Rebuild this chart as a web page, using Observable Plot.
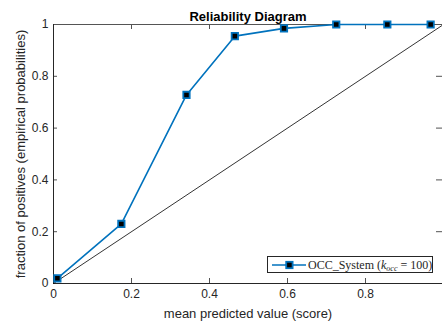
<!DOCTYPE html>
<html>
<head>
<meta charset="utf-8">
<script src="https://cdn.jsdelivr.net/npm/d3@7"></script>
<script src="https://cdn.jsdelivr.net/npm/@observablehq/plot@0.6"></script>
<style>
  html, body { margin: 0; padding: 0; background: #fff; }
  #chart { position: relative; width: 442px; height: 322px; }
  #legend { position: absolute; left: 267px; top: 256px; width: 166px; height: 17px; box-sizing: border-box;
    border: 1px solid #262626; background: #fff; color: #262626; white-space: nowrap; }
  #legend svg { position: absolute; left: 3px; top: 2px; }
  #legend .t { position: absolute; left: 40px; top: 1px; line-height: 14px; font-family: "Liberation Serif", serif; font-size: 12px; }
  #legend sub { font-size: 8px; vertical-align: -2px; line-height: 0; }
</style>
</head>
<body>
<div id="chart"></div>
<script>
const meanPredicted = [0.01, 0.174, 0.341, 0.465, 0.591, 0.725, 0.856, 0.967];
const fractionPositives = [0.02, 0.23, 0.728, 0.955, 0.985, 1.0, 1.0, 1.0];
const xTicks = [0, 0.2, 0.4, 0.6, 0.8];
const yTicks = [0, 0.2, 0.4, 0.6, 0.8, 1];
const diagonal = [0, 1];
const titleText = "Reliability Diagram";
const xLabel = "mean predicted value (score)";
const yLabel = "fraction of positives (empirical probabilities)";
const seriesName = "OCC_System";

const data = meanPredicted.map((x, i) => ({x, y: fractionPositives[i]}));
const blue = "#0072BD";
const axisColor = "#262626";
const innerH = 283 - 24;
const innerW = 443 - 53;
const fmt = d => String(d);

const plot = Plot.plot({
  width: 442,
  height: 322,
  marginLeft: 53,
  marginRight: 0,
  marginTop: 24,
  marginBottom: 39,
  style: {fontFamily: "Liberation Sans, Arial, sans-serif", fontSize: "12px", color: axisColor, background: "transparent"},
  x: {domain: [0, 1], range: [53, 443], label: null},
  y: {domain: [0, 1], label: null},
  marks: [
    Plot.axisX(xTicks, {tickSize: 0, tickPadding: 6, fontSize: 12, fill: axisColor, tickFormat: fmt, label: null}),
    Plot.axisY(yTicks, {tickSize: 0, tickPadding: 5, fontSize: 12, fill: axisColor, tickFormat: fmt, label: null}),
    // inward ticks
    Plot.tickX(xTicks, {x: d => d, insetTop: innerH - 5, stroke: axisColor, strokeWidth: 0.8}),
    Plot.tickX(xTicks, {x: d => d, insetBottom: innerH - 5, stroke: axisColor, strokeWidth: 0.8}),
    Plot.tickY(yTicks, {y: d => d, insetRight: innerW - 5, stroke: axisColor, strokeWidth: 0.8}),
    Plot.tickY(yTicks, {y: d => d, insetLeft: innerW - 7, stroke: axisColor, strokeWidth: 0.8}),
    // box
    Plot.frame({anchor: "top", stroke: "#555", strokeWidth: 1}),
    Plot.frame({anchor: "left", stroke: axisColor, strokeWidth: 1}),
    Plot.frame({anchor: "bottom", stroke: axisColor, strokeWidth: 1}),
    // perfect calibration
    Plot.line(diagonal, {x: d => d, y: d => d, stroke: "#000", strokeWidth: 0.8}),
    // series
    Plot.line(data, {x: "x", y: "y", stroke: blue, strokeWidth: 1.6}),
    Plot.dot(data, {x: "x", y: "y", symbol: "square", r: 3.6, fill: "#000", stroke: blue, strokeWidth: 1.8}),
    // texts
    Plot.text([titleText], {frameAnchor: "top", lineAnchor: "bottom", dy: -4, fontWeight: "bold", fontSize: 13, fill: "#000", text: d => d}),
    Plot.text([xLabel], {frameAnchor: "bottom", lineAnchor: "middle", dy: 30, fontSize: 13, fill: axisColor, text: d => d}),
    Plot.text([yLabel], {frameAnchor: "left", textAnchor: "middle", lineAnchor: "middle", dx: -33, rotate: -90, fontSize: 13, fill: axisColor, text: d => d})
  ]
});
const chart = document.getElementById("chart");
chart.appendChild(plot);

const legend = document.createElement("div");
legend.id = "legend";
legend.innerHTML = `<svg width="36" height="12"><line x1="1" y1="6" x2="35" y2="6" stroke="${blue}" stroke-width="1.6"/><rect x="15.2" y="2.8" width="6.4" height="6.4" fill="#000" stroke="${blue}" stroke-width="1.8"/></svg><span class="t">${seriesName} (<i>k</i><sub><i>occ</i></sub> = 100)</span>`;
chart.appendChild(legend);
</script>
</body>
</html>
